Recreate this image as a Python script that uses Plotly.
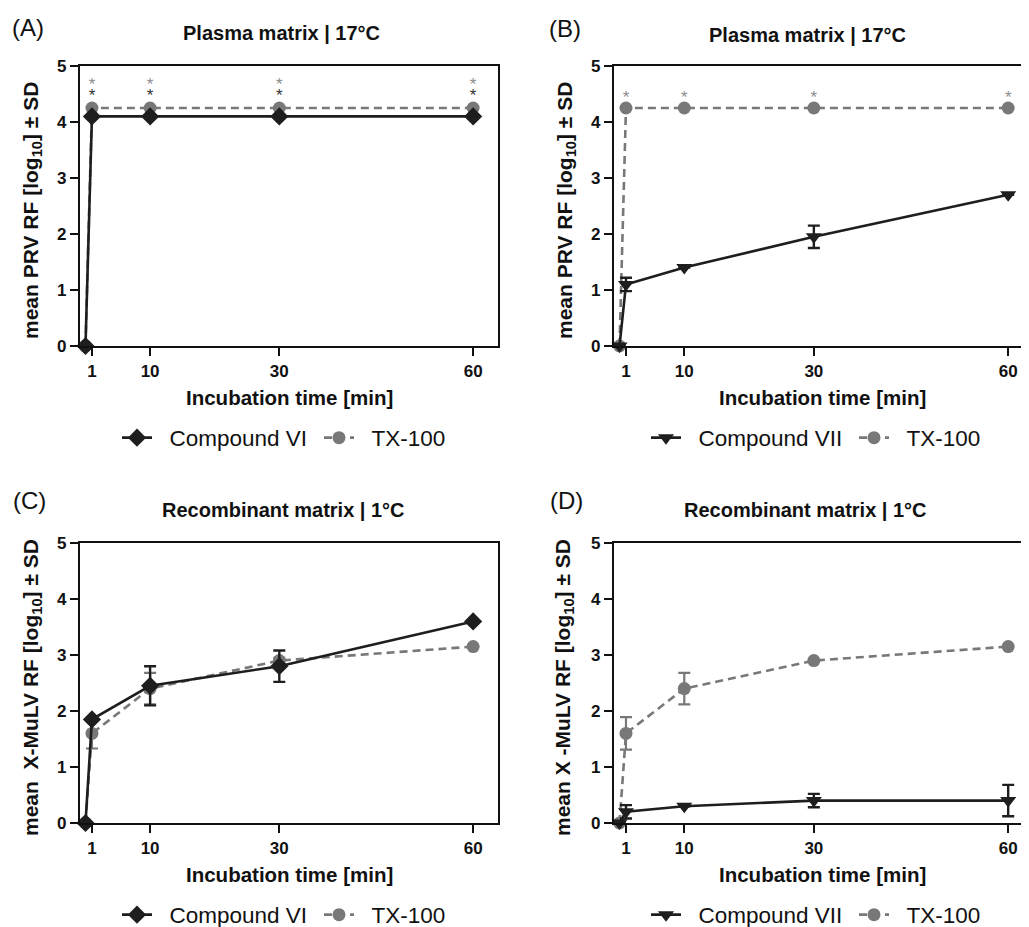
import plotly.graph_objects as go

# ---------------- data ----------------
time_min = [0, 1, 10, 30, 60]
tick_vals = [1, 10, 30, 60]
y_ticks = [0, 1, 2, 3, 4, 5]

# Panel A: Plasma matrix | 17°C (PRV)
a_comp6 = [0, 4.1, 4.1, 4.1, 4.1]
a_tx100 = [0, 4.25, 4.25, 4.25, 4.25]
a_sig_x = [1, 10, 30, 60]
a_sig_tx_y = [4.65, 4.65, 4.65, 4.65]
a_sig_comp_y = [4.45, 4.45, 4.45, 4.45]

# Panel B: Plasma matrix | 17°C (PRV)
b_comp7 = [0, 1.1, 1.4, 1.95, 2.7]
b_comp7_sd = [0, 0.12, 0.0, 0.2, 0.0]
b_tx100 = [0, 4.25, 4.25, 4.25, 4.25]
b_sig_x = [1, 10, 30, 60]
b_sig_tx_y = [4.42, 4.42, 4.42, 4.42]

# Panel C: Recombinant matrix | 1°C (X-MuLV)
c_comp6 = [0, 1.85, 2.45, 2.8, 3.6]
c_comp6_sd = [0, 0.0, 0.35, 0.28, 0.0]
c_tx100 = [0, 1.6, 2.4, 2.9, 3.15]
c_tx100_sd = [0, 0.27, 0.28, 0.05, 0.0]

# Panel D: Recombinant matrix | 1°C (X-MuLV)
d_comp7 = [0, 0.2, 0.3, 0.4, 0.4]
d_comp7_sd = [0, 0.12, 0.0, 0.12, 0.28]
d_tx100 = [0, 1.6, 2.4, 2.9, 3.15]
d_tx100_sd = [0, 0.29, 0.28, 0.0, 0.0]

panel_letters = ["(A)", "(B)", "(C)", "(D)"]
panel_titles = ["Plasma matrix | 17°C", "Plasma matrix | 17°C",
                "Recombinant matrix | 1°C", "Recombinant matrix | 1°C"]
y_titles = ["mean PRV RF [log<sub>10</sub>] ± SD",
            "mean PRV RF [log<sub>10</sub>] ± SD",
            "mean\u00a0\u00a0X-MuLV RF [log<sub>10</sub>] ± SD",
            "mean X -MuLV RF [log<sub>10</sub>] ± SD"]
x_title = "Incubation time [min]"
name_c6 = "Compound VI"
name_c7 = "Compound VII"
name_tx = "TX-100"

# ---------------- style ----------------
# the page body adds an 8 px margin; the paper is made a bit larger than the
# window so nothing is pushed, and positions are given in window pixels.
W, H, OFF = 1040, 940, 8
FONT = "Liberation Sans, Arial, Helvetica, sans-serif"
DARK = "#1e1e1e"
GRAY = "#787878"
STAR_GRAY = "#8e8e8e"
STAR_DARK = "#333333"


def fx(px):
    return min(1.0, max(0.0, (px - OFF) / W))


def fy(py):
    return min(1.0, max(0.0, 1 - (py - OFF) / H))


fig = go.Figure()

# legend placement (left edge of symbol, vertical centre) per panel: (comp, tx)
leg_xy = [((117, 438), (319, 438)), ((646, 438), (854, 438)),
          ((117, 915), (319, 915)), ((646, 915), (854, 915))]

panels = [
    ("x", "y", a_comp6, None, name_c6, "diamond", a_tx100, None),
    ("x2", "y2", b_comp7, b_comp7_sd, name_c7, "triangle-down", b_tx100, None),
    ("x3", "y3", c_comp6, c_comp6_sd, name_c6, "diamond", c_tx100, c_tx100_sd),
    ("x4", "y4", d_comp7, d_comp7_sd, name_c7, "triangle-down", d_tx100, d_tx100_sd),
]

legends = {}
for i, (xa, ya, cy, csd, cname, csym, ty, tsd) in enumerate(panels):
    lg_c = "legend" if i == 0 else "legend%d" % (2 * i + 1)
    lg_t = "legend%d" % (2 * i + 2)
    tx_err = dict(type="data", array=tsd, visible=True, color=GRAY,
                  thickness=2.2, width=6) if tsd else None
    c_err = dict(type="data", array=csd, visible=True, color=DARK,
                 thickness=2.4, width=6) if csd else None
    fig.add_trace(go.Scatter(
        x=time_min, y=ty, name="\u00a0\u00a0" + name_tx, mode="lines+markers",
        line=dict(color=GRAY, width=2.6, dash="8px,5px"),
        marker=dict(symbol="circle", size=13, color=GRAY),
        error_y=tx_err, xaxis=xa, yaxis=ya, legend=lg_t,
        cliponaxis=False))
    fig.add_trace(go.Scatter(
        x=time_min, y=cy, name="\u00a0\u00a0" + cname, mode="lines+markers",
        line=dict(color=DARK, width=2.6),
        marker=dict(symbol=csym, size=14, color=DARK),
        error_y=c_err, xaxis=xa, yaxis=ya, legend=lg_c,
        cliponaxis=False))
    for key, (lx, ly) in ((lg_c, leg_xy[i][0]), (lg_t, leg_xy[i][1])):
        legends[key] = dict(orientation="h", xanchor="left", yanchor="middle",
                            x=fx(lx), y=fy(ly),
                            font=dict(family=FONT, size=22.5, color="#111111"),
                            bgcolor="rgba(0,0,0,0)", itemwidth=30)

# significance asterisks
fig.add_trace(go.Scatter(x=a_sig_x, y=a_sig_tx_y, mode="text", text=["*"] * 4,
                         textfont=dict(size=17, color=STAR_GRAY, family=FONT),
                         showlegend=False, xaxis="x", yaxis="y", cliponaxis=False))
fig.add_trace(go.Scatter(x=a_sig_x, y=a_sig_comp_y, mode="text", text=["*"] * 4,
                         textfont=dict(size=17, color=STAR_DARK, family=FONT),
                         showlegend=False, xaxis="x", yaxis="y", cliponaxis=False))
fig.add_trace(go.Scatter(x=b_sig_x, y=b_sig_tx_y, mode="text", text=["*"] * 4,
                         textfont=dict(size=17, color=STAR_GRAY, family=FONT),
                         showlegend=False, xaxis="x2", yaxis="y2", cliponaxis=False))

# ---------------- axes ----------------
left_dom = [fx(80), fx(498)]
right_dom = [fx(614), fx(1026)]
top_dom = [fy(346), fy(66)]
bot_dom = [fy(823), fy(543)]
xr_left = [-0.85, 63.85]
xr_right = [-0.85, 62.75]

ax_common = dict(showline=True, linecolor="#111111", linewidth=2.4, mirror=True,
                 ticks="outside", ticklen=8, tickwidth=2.2, tickcolor="#111111",
                 showgrid=False, zeroline=False, automargin=False,
                 tickfont=dict(family=FONT, size=17, color="#111111", weight="bold"))

layout_axes = {}
specs = [("xaxis", "yaxis", "x", "y", left_dom, top_dom, xr_left),
         ("xaxis2", "yaxis2", "x2", "y2", right_dom, top_dom, xr_right),
         ("xaxis3", "yaxis3", "x3", "y3", left_dom, bot_dom, xr_left),
         ("xaxis4", "yaxis4", "x4", "y4", right_dom, bot_dom, xr_right)]
for xk, yk, xid, yid, xd, yd, xr in specs:
    layout_axes[xk] = dict(ax_common, domain=xd, range=xr, tickvals=tick_vals,
                           anchor=yid)
    layout_axes[yk] = dict(ax_common, domain=yd, range=[0, 5], tickvals=y_ticks,
                           anchor=xid)

# ---------------- annotations ----------------
ann = []
letter_pos = [(28, 27), (565, 29), (29, 500), (566, 500)]
title_pos = [(281, 33), (807, 35), (283, 510), (805, 510)]
xt_pos = [(289, 397), (822, 397), (289, 874), (822, 874)]
yt_pos = [(32, 211), (566, 211), (32, 688), (564, 688)]


def add_ann(text, pos, size, angle=0):
    ann.append(dict(text=text, x=fx(pos[0]), y=fy(pos[1]), xref="paper", yref="paper",
                    xanchor="center", yanchor="middle", showarrow=False,
                    textangle=angle,
                    font=dict(family=FONT, size=size, color="#111111")))


for i in range(4):
    add_ann(panel_letters[i], letter_pos[i], 24)
    add_ann("<b>" + panel_titles[i] + "</b>", title_pos[i], 20)
    add_ann("<b>" + x_title + "</b>", xt_pos[i], 20.5)
    add_ann("<b>" + y_titles[i] + "</b>", yt_pos[i], 21, -90)

fig.update_layout(
    width=W, height=H,
    margin=dict(l=0, r=0, t=0, b=0),
    paper_bgcolor="white", plot_bgcolor="white",
    showlegend=True,
    annotations=ann,
    **layout_axes,
    **legends,
)

fig.write_html("out.html")
